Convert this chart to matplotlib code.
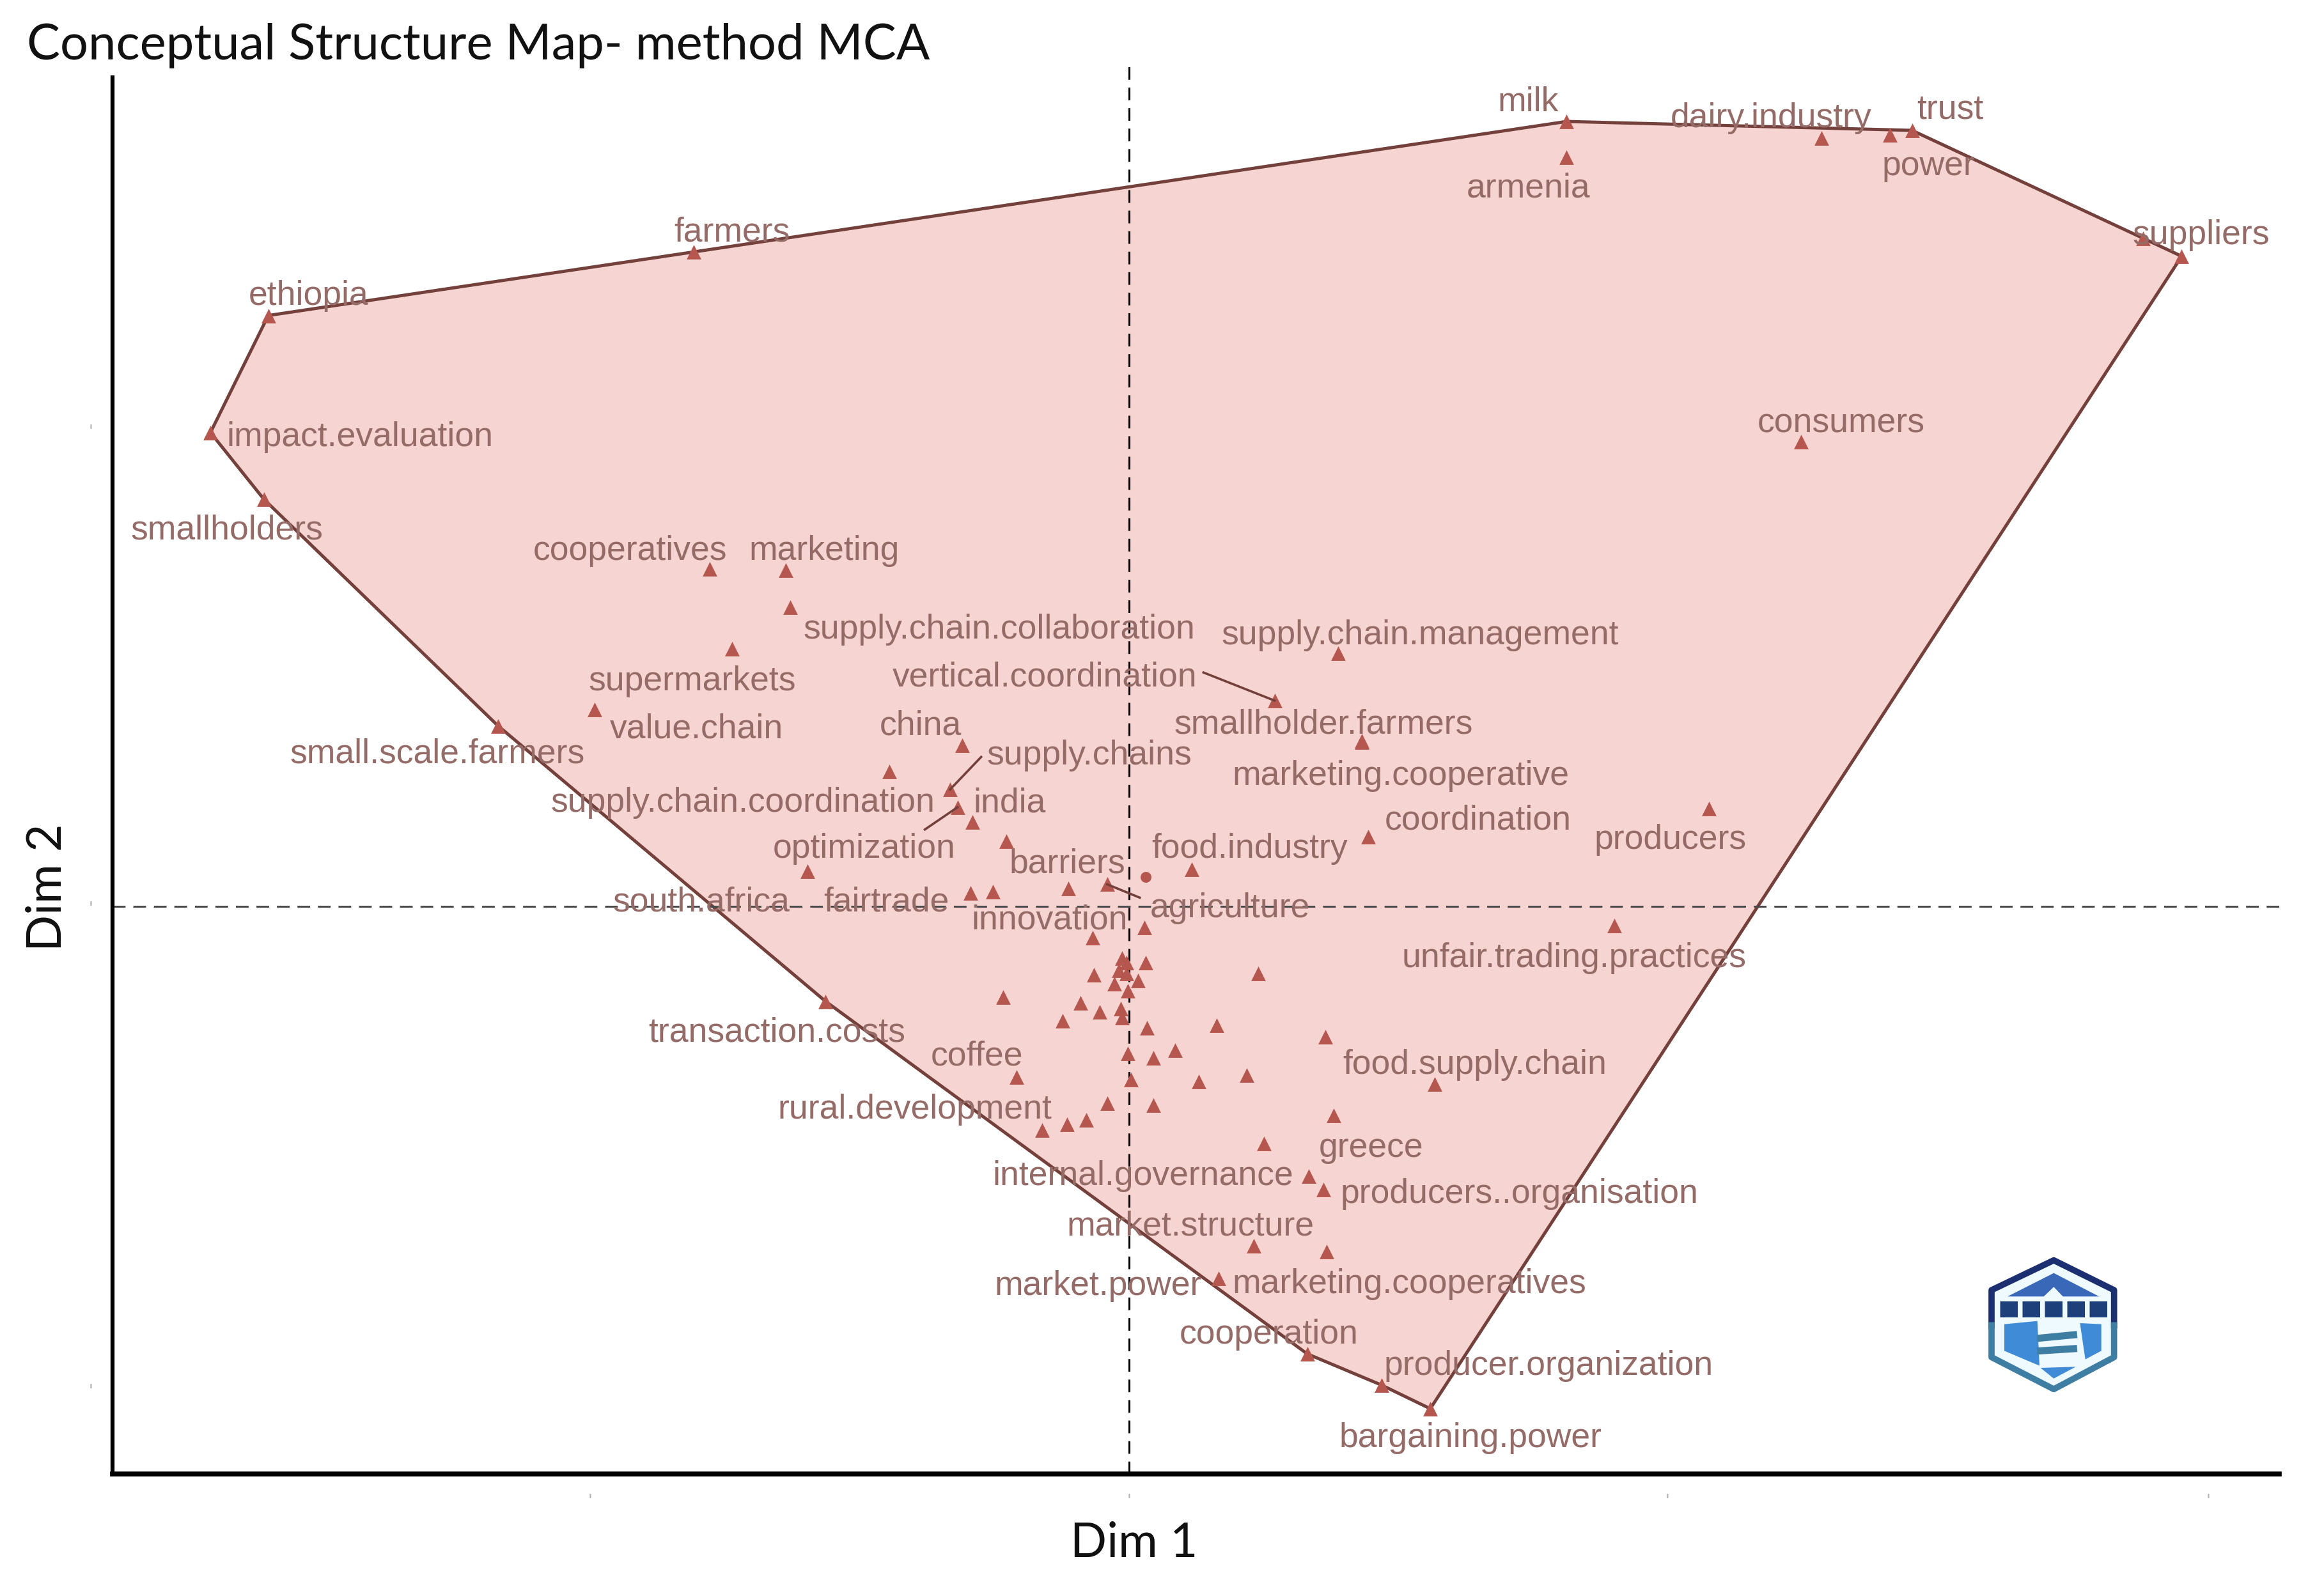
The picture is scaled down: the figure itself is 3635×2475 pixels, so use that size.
import matplotlib
matplotlib.use("Agg")
import matplotlib.pyplot as plt
from matplotlib.patches import Polygon

# values, the map has no readable tick labels so units are arbitrary
terms = [
    "ethiopia", "impact.evaluation", "smallholders", "farmers", "milk", "armenia",
    "dairy.industry", "trust", "power", "suppliers", "consumers", "cooperatives",
    "marketing", "supply.chain.collaboration", "supermarkets", "value.chain",
    "small.scale.farmers", "supply.chain.management", "vertical.coordination",
    "smallholder.farmers", "marketing.cooperative", "china", "supply.chains",
    "supply.chain.coordination", "optimization", "india", "barriers", "food.industry",
    "coordination", "producers", "south.africa", "fairtrade", "innovation", "agriculture",
    "unfair.trading.practices", "transaction.costs", "coffee", "food.supply.chain",
    "rural.development", "greece", "internal.governance", "producers..organisation",
    "market.structure", "marketing.cooperatives", "market.power", "cooperation",
    "producer.organization", "bargaining.power",
]
dim1 = [
    -581, -620, -584, -294, 295, 295, 467, 528, 513, 710, 453, -283, -232, -229, -268, -361,
    -426, 141, 98, 157, 157, -113, -121, -162, -116, -106, -83, 42, 161, 391, -217, -107,
    -92, -15, 327, -205, -76, 206, -59, 138, 121, 131, 84, 133, 60, 120, 170, 203,
]
dim2 = [
    399, 320, 275, 442, 530, 506, 519, 524, 521, 439, 314, 228, 227, 202, 174, 133,
    122, 171, 139, 112, 111, 109, 79, 91, 67, 57, 44, 25, 47, 66, 24, 9,
    10, 15, -13, -64, -115, -120, -151, -141, -182, -191, -229, -233, -251, -302, -323, -339,
]
label_x = [
    -554, -519, -609, -268, 269, 269, 433, 554, 539, 723, 480, -337, -206, -88, -295, -292,
    -467, 196, -57, 131, 183, -141, -27, -261, -179, -81, -42, 81, 235, 365, -289, -164,
    -54, 68, 300, -238, -103, 233, -145, 163, 9, 263, 41, 189, -21, 94, 283, 230,
]
label_y = [
    414, 319, 256, 457, 545, 487, 534, 540, 502, 455, 328, 242, 242, 189, 154, 122,
    105, 185, 157, 125, 90, 124, 104, 72, 41, 72, 31, 41, 60, 47, 5, 5,
    -7, 1, -33, -83, -99, -105, -135, -161, -180, -192, -214, -253, -254, -287, -308, -357,
]

# the points with no label, mostly around the origin
other1 = [
    10, -25, 11, 87, -24, -5, -2, -10, 6, -1, -2, -7, -85, -33, -20, -6, -5, -45, 12,
    59, 132, 31, -1, 16, 1, 47, 79, -15, 16, -29, -42, 91, -41, 684,
]
other2 = [
    -14, -21, -38, -45, -46, -35, -38, -52, -50, -57, -45, -43, -61, -65, -71, -69, -75, -77, -82,
    -80, -88, -97, -99, -102, -117, -118, -114, -133, -134, -144, -147, -160, 12, 451,
]
circle1 = [11]
circle2 = [20]

# hull runs through these terms, in this order
hull_terms = [
    "ethiopia", "milk", "trust", "suppliers", "bargaining.power", "producer.organization",
    "cooperation", "transaction.costs", "small.scale.farmers", "smallholders", "impact.evaluation",
]

# leader lines: term, then where the line leaves the label
leader_terms = ["vertical.coordination", "supply.chains", "optimization", "agriculture"]
leader_x = [50, -100, -138, 7]
leader_y = [158, 101, 52, 6]

x_ticks = [-364, 0, 363, 728]
y_ticks = [322, 0, -326]

W, H = 1568, 1068
fig = plt.figure(figsize=(36.35, 24.75), dpi=100, facecolor="white")
ax = fig.add_axes([76 / W, 1 - 995 / H, (1538 - 76) / W, (995 - 40) / H])
ax.set_xlim(-686, 776)
ax.set_ylim(-383, 572)

pos = {t: (a, b) for t, a, b in zip(terms, dim1, dim2)}
hull = [pos[t] for t in hull_terms]
ax.add_patch(Polygon(hull, closed=True, facecolor="#f6d4d1", edgecolor="#74403b", linewidth=3.6, zorder=1))

ax.axvline(0, color="black", lw=2.2, dashes=(6.5, 4), zorder=2)
ax.axhline(0, color="#4a4a4a", lw=2.2, dashes=(6.5, 4), zorder=2)

ax.scatter(dim1, dim2, marker="^", s=270, color="#b5574e", linewidths=0, zorder=3)
ax.scatter(other1, other2, marker="^", s=270, color="#b5574e", linewidths=0, zorder=3)
ax.scatter(circle1, circle2, marker="o", s=150, color="#b5574e", linewidths=0, zorder=3)

for t, lx, ly in zip(leader_terms, leader_x, leader_y):
    ax.plot([pos[t][0], lx], [pos[t][1], ly], color="#74403b", lw=2.6, zorder=3)

for t, lx, ly in zip(terms, label_x, label_y):
    ax.text(lx, ly - 2, t, ha="center", va="center", fontsize=38.5, family="Liberation Sans",
            color="#946b67", zorder=4)

ax.spines["top"].set_visible(False)
ax.spines["right"].set_visible(False)
ax.spines["left"].set_linewidth(4.5)
ax.spines["bottom"].set_linewidth(5.5)
ax.spines["left"].set_bounds(-383, 560)
ax.patch.set_alpha(0)
ax.set_xticks(x_ticks)
ax.set_yticks(y_ticks)
ax.set_xticklabels(["'"] * len(x_ticks), fontsize=18, color="#b0b0b0")
ax.set_yticklabels(["'"] * len(y_ticks), fontsize=18, color="#b0b0b0")
ax.tick_params(length=0, pad=22)

fig.text(18 / W, 1 - 31 / H, "Conceptual Structure Map- method MCA", fontsize=56, family="Lato",
         ha="left", va="center", color="#111111")
fig.text(765 / W, 1 - 1042 / H, "Dim 1", fontsize=54, family="Lato", ha="center", va="center", color="#111111")
fig.text(32 / W, 1 - 599 / H, "Dim 2", fontsize=54, family="Lato", ha="center", va="center",
         rotation=90, color="#111111")

# logo, bottom right
logo = fig.add_axes([3000 / 3635, 1 - 2240 / 2475, 400 / 3635, 340 / 2475])
logo.set_xlim(0, 1200)
logo.set_ylim(1020, 0)
logo.axis("off")
logo.add_patch(Polygon([(637, 205), (920, 355), (920, 680), (637, 830), (345, 680), (345, 355)],
                       closed=True, facecolor="#eefaff", edgecolor="none"))
logo.plot([345, 345, 637, 920, 920], [520, 355, 215, 355, 520], color="#1c2f70", lw=7)
logo.plot([345, 345, 637, 920, 920], [520, 670, 820, 670, 520], color="#3f7ea3", lw=7)
logo.add_patch(Polygon([(420, 385), (637, 275), (850, 385)], closed=True, facecolor="#3a68b8"))
logo.add_patch(Polygon([(405, 515), (560, 500), (570, 710), (405, 640)], closed=True, facecolor="#3f8bd8"))
logo.add_patch(Polygon([(760, 510), (860, 515), (860, 640), (785, 680)], closed=True, facecolor="#3f8bd8"))
logo.add_patch(Polygon([(575, 720), (740, 715), (637, 770)], closed=True, facecolor="#3f8bd8"))
logo.plot([385, 895], [445, 445], color="#1d3f7a", lw=18, dashes=(1.1, 0.3))
logo.add_patch(Polygon([(590, 385), (637, 340), (680, 385), (690, 560), (575, 560)], closed=True, facecolor="#eefaff"))
logo.plot([575, 730], [580, 565], color="#3f7ea3", lw=8)
logo.plot([575, 730], [640, 630], color="#3f7ea3", lw=8)

fig.savefig("out.png", dpi=100)
